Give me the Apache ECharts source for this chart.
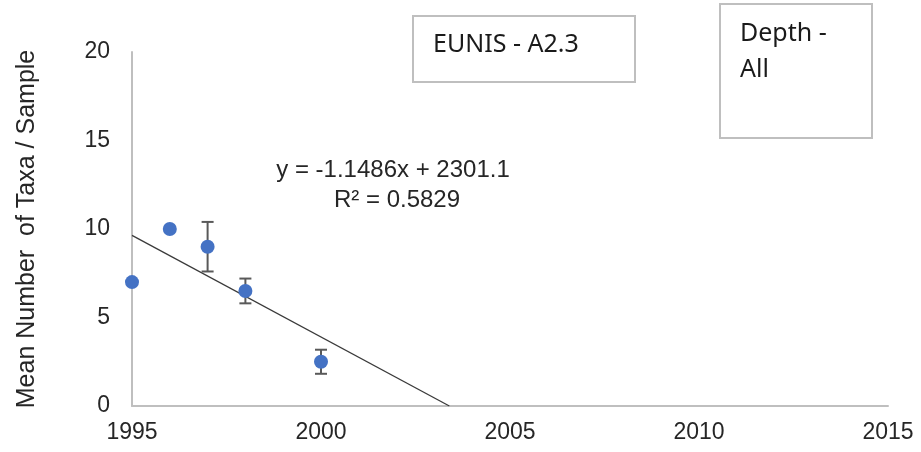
<!DOCTYPE html>
<html>
<head>
<meta charset="utf-8">
<script src="https://cdn.jsdelivr.net/npm/echarts@6/dist/echarts.min.js"></script>
<style>html,body{margin:0;padding:0;background:#fff}#c{width:921px;height:452px}</style>
</head>
<body>
<div id="c"></div>
<script>
const years = [1995, 1996, 1997, 1998, 2000];
const meanTaxa = [7, 10, 9, 6.5, 2.5];
const errPlusMinus = [0, 0, 1.4, 0.7, 0.68];
const xTicks = [1995, 2000, 2005, 2010, 2015];
const yTicks = [0, 5, 10, 15, 20];
const trendSlope = -1.1486;
const trendIntercept = 2301.1;
const equationText = 'y = -1.1486x + 2301.1';
const r2Text = 'R² = 0.5829';
const habitatLabel = 'EUNIS - A2.3';
const depthLabel = 'Depth -\nAll';
const yTitle = 'Mean Number  of Taxa / Sample';

const points = years.map((y, i) => [y, meanTaxa[i]]);
const errData = years.map((y, i) => [y, meanTaxa[i] - errPlusMinus[i], meanTaxa[i] + errPlusMinus[i]]).filter((d, i) => errPlusMinus[i] > 0);
const xStart = years[0];
const xZero = -trendIntercept / trendSlope;
const trendData = [[xStart, trendSlope * xStart + trendIntercept], [xZero, 0]];

const chart = echarts.init(document.getElementById('c'));
chart.setOption({
  animation: false,
  grid: { left: 132, right: 33, top: 52, bottom: 46 },
  xAxis: {
    type: 'value', min: xTicks[0], max: xTicks[xTicks.length - 1], interval: 5,
    axisLine: { show: true, lineStyle: { color: '#bfbfbf', width: 2 } },
    axisTick: { show: false }, splitLine: { show: false },
    axisLabel: { color: '#262626', fontFamily: 'Liberation Sans', fontSize: 23, margin: 15, formatter: v => String(v) }
  },
  yAxis: {
    type: 'value', min: yTicks[0], max: yTicks[yTicks.length - 1], interval: 5,
    name: yTitle, nameLocation: 'middle', nameGap: 92, nameRotate: 90,
    nameTextStyle: { color: '#262626', fontFamily: 'Liberation Sans', fontSize: 25 },
    axisLine: { show: true, lineStyle: { color: '#bfbfbf', width: 2 } },
    axisTick: { show: false }, splitLine: { show: false },
    axisLabel: { color: '#262626', fontFamily: 'Liberation Sans', fontSize: 23, margin: 22, formatter: v => String(v) }
  },
  series: [
    {
      type: 'line', data: trendData, symbol: 'none', z: 2,
      lineStyle: { color: '#3a3a3a', width: 1.3 }
    },
    {
      type: 'custom', z: 3,
      data: errData,
      renderItem: function (params, api) {
        const x = api.value(0);
        const lo = api.coord([x, api.value(1)]);
        const hi = api.coord([x, api.value(2)]);
        const cap = 6;
        const st = { stroke: '#595959', lineWidth: 2 };
        return { type: 'group', children: [
          { type: 'line', shape: { x1: lo[0], y1: lo[1], x2: hi[0], y2: hi[1] }, style: st },
          { type: 'line', shape: { x1: lo[0] - cap, y1: lo[1], x2: lo[0] + cap, y2: lo[1] }, style: st },
          { type: 'line', shape: { x1: hi[0] - cap, y1: hi[1], x2: hi[0] + cap, y2: hi[1] }, style: st }
        ]};
      }
    },
    {
      type: 'scatter', data: points, symbolSize: 14, z: 4,
      itemStyle: { color: '#4472C4', opacity: 1 }
    }
  ],
  graphic: [
    { type: 'text', x: 393, y: 170, style: { text: equationText, fill: '#262626', font: '24px "Liberation Sans"', align: 'center', verticalAlign: 'middle' } },
    { type: 'text', x: 397, y: 200, style: { text: r2Text, fill: '#262626', font: '24px "Liberation Sans"', align: 'center', verticalAlign: 'middle' } },
    { type: 'rect', shape: { x: 413, y: 16, width: 222, height: 66 }, style: { fill: '#fff', stroke: '#bfbfbf', lineWidth: 2 } },
    { type: 'text', x: 433, y: 45, style: { text: habitatLabel, fill: '#1a1a1a', font: '25px "Noto Sans"', verticalAlign: 'middle' } },
    { type: 'rect', shape: { x: 720, y: 4, width: 152, height: 134 }, style: { fill: '#fff', stroke: '#bfbfbf', lineWidth: 2 } },
    { type: 'text', x: 740, y: 16, style: { text: depthLabel, fill: '#1a1a1a', font: '25px "Noto Sans"', lineHeight: 36, verticalAlign: 'top' } }
  ]
});
</script>
</body>
</html>
